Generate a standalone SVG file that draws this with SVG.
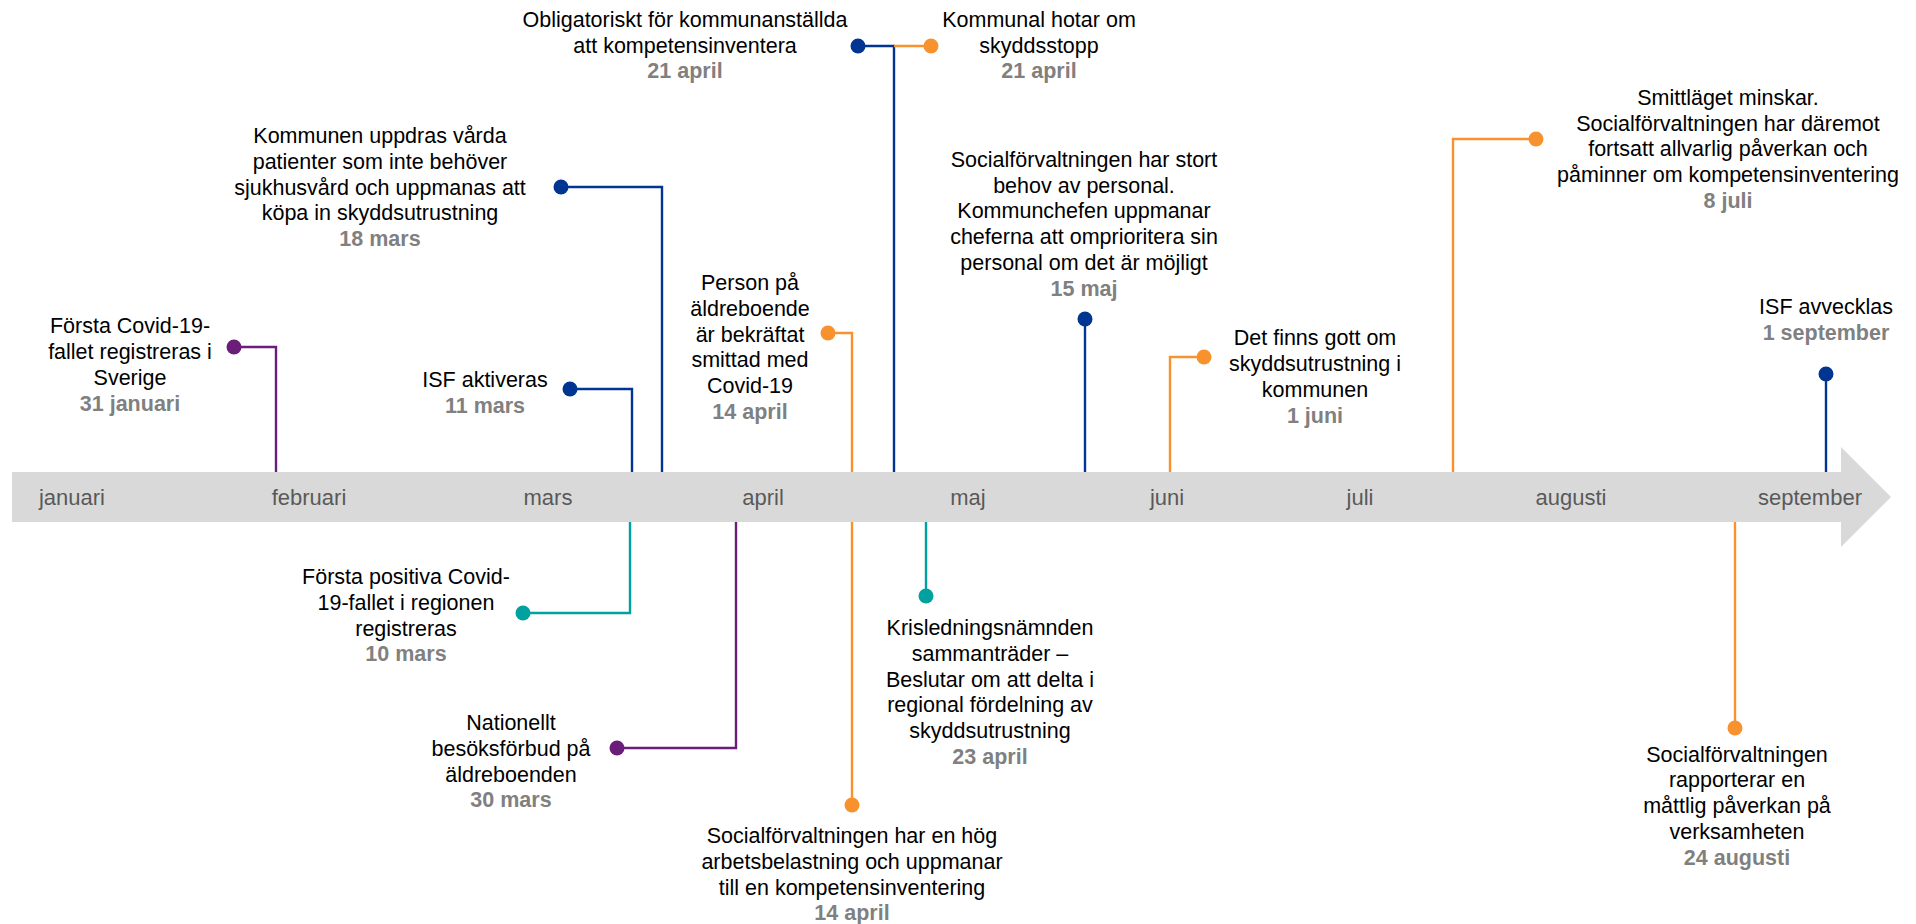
<svg xmlns="http://www.w3.org/2000/svg" width="1916" height="924" viewBox="0 0 1916 924">
<style>
text{font-family:"Liberation Sans",Arial,sans-serif;font-size:21.5px;text-anchor:middle;fill:#000}
.d{font-weight:bold;fill:#808080}
.m{fill:#595959;font-size:22px}
.c{fill:none;stroke-width:2.4}
.pu{stroke:#6A1E7A}.bl{stroke:#003591}.or{stroke:#F7922E}.te{stroke:#00A19E}
.fpu{fill:#6A1E7A}.fbl{fill:#003591}.for{fill:#F7922E}.fte{fill:#00A19E}
</style>
<rect width="1916" height="924" fill="#fff"/>
<g id="timeline">
<polygon points="12,472 1841,472 1841,447 1891,497 1841,547 1841,522 12,522" fill="#D9D9D9"/>
<text class="m" x="72" y="505">januari</text>
<text class="m" x="309" y="505">februari</text>
<text class="m" x="548" y="505">mars</text>
<text class="m" x="763" y="505">april</text>
<text class="m" x="968" y="505">maj</text>
<text class="m" x="1167" y="505">juni</text>
<text class="m" x="1360" y="505">juli</text>
<text class="m" x="1571" y="505">augusti</text>
<text class="m" x="1810" y="505">september</text>
</g>
<g id="connectors">
<path class="c pu" d="M234,347 H276 V472"/>
<path class="c bl" d="M570,389 H632 V472"/>
<path class="c bl" d="M561,187 H662 V472"/>
<path class="c bl" d="M858,46 H894 V472"/>
<path class="c or" d="M894,46 H931"/>
<path class="c or" d="M828,333 H852 V472"/>
<path class="c bl" d="M1085,319 V472"/>
<path class="c or" d="M1204,357 H1170 V472"/>
<path class="c or" d="M1536,139 H1453 V472"/>
<path class="c bl" d="M1826,374 V472"/>
<path class="c te" d="M523,613 H630 V522"/>
<path class="c pu" d="M617,748 H736 V522"/>
<path class="c te" d="M926,596 V522"/>
<path class="c or" d="M852,805 V522"/>
<path class="c or" d="M1735,728 V522"/>
</g>
<g id="e1"><circle class="fpu" cx="234" cy="347" r="7.5"/>
<text x="130" y="333">Första Covid-19-</text><text x="130" y="359">fallet registreras i</text><text x="130" y="385">Sverige</text><text class="d" x="130" y="411">31 januari</text></g>
<g id="e2"><circle class="fbl" cx="570" cy="389" r="7.5"/>
<text x="485" y="387">ISF aktiveras</text><text class="d" x="485" y="413">11 mars</text></g>
<g id="e3"><circle class="fbl" cx="561" cy="187" r="7.5"/>
<text x="380" y="143">Kommunen uppdras vårda</text><text x="380" y="169">patienter som inte behöver</text><text x="380" y="195">sjukhusvård och uppmanas att</text><text x="380" y="220">köpa in skyddsutrustning</text><text class="d" x="380" y="246">18 mars</text></g>
<g id="e4"><circle class="fbl" cx="858" cy="46" r="7.5"/>
<text x="685" y="27">Obligatoriskt för kommunanställda</text><text x="685" y="53">att kompetensinventera</text><text class="d" x="685" y="78">21 april</text></g>
<g id="e5"><circle class="for" cx="931" cy="46" r="7.5"/>
<text x="1039" y="27">Kommunal hotar om</text><text x="1039" y="53">skyddsstopp</text><text class="d" x="1039" y="78">21 april</text></g>
<g id="e6"><circle class="for" cx="828" cy="333" r="7.5"/>
<text x="750" y="290">Person på</text><text x="750" y="316">äldreboende</text><text x="750" y="342">är bekräftat</text><text x="750" y="367">smittad med</text><text x="750" y="393">Covid-19</text><text class="d" x="750" y="419">14 april</text></g>
<g id="e7"><circle class="fbl" cx="1085" cy="319" r="7.5"/>
<text x="1084" y="167">Socialförvaltningen har stort</text><text x="1084" y="193">behov av personal.</text><text x="1084" y="218">Kommunchefen uppmanar</text><text x="1084" y="244">cheferna att omprioritera sin</text><text x="1084" y="270">personal om det är möjligt</text><text class="d" x="1084" y="296">15 maj</text></g>
<g id="e8"><circle class="for" cx="1204" cy="357" r="7.5"/>
<text x="1315" y="345">Det finns gott om</text><text x="1315" y="371">skyddsutrustning i</text><text x="1315" y="397">kommunen</text><text class="d" x="1315" y="423">1 juni</text></g>
<g id="e9"><circle class="for" cx="1536" cy="139" r="7.5"/>
<text x="1728" y="105">Smittläget minskar.</text><text x="1728" y="131">Socialförvaltningen har däremot</text><text x="1728" y="156">fortsatt allvarlig påverkan och</text><text x="1728" y="182">påminner om kompetensinventering</text><text class="d" x="1728" y="208">8 juli</text></g>
<g id="e10"><circle class="fbl" cx="1826" cy="374" r="7.5"/>
<text x="1826" y="314">ISF avvecklas</text><text class="d" x="1826" y="340">1 september</text></g>
<g id="e11"><circle class="fte" cx="523" cy="613" r="7.5"/>
<text x="406" y="584">Första positiva Covid-</text><text x="406" y="610">19-fallet i regionen</text><text x="406" y="636">registreras</text><text class="d" x="406" y="661">10 mars</text></g>
<g id="e12"><circle class="fpu" cx="617" cy="748" r="7.5"/>
<text x="511" y="730">Nationellt</text><text x="511" y="756">besöksförbud på</text><text x="511" y="782">äldreboenden</text><text class="d" x="511" y="807">30 mars</text></g>
<g id="e13"><circle class="fte" cx="926" cy="596" r="7.5"/>
<text x="990" y="635">Krisledningsnämnden</text><text x="990" y="661">sammanträder –</text><text x="990" y="687">Beslutar om att delta i</text><text x="990" y="712">regional fördelning av</text><text x="990" y="738">skyddsutrustning</text><text class="d" x="990" y="764">23 april</text></g>
<g id="e14"><circle class="for" cx="852" cy="805" r="7.5"/>
<text x="852" y="843">Socialförvaltningen har en hög</text><text x="852" y="869">arbetsbelastning och uppmanar</text><text x="852" y="895">till en kompetensinventering</text><text class="d" x="852" y="920">14 april</text></g>
<g id="e15"><circle class="for" cx="1735" cy="728" r="7.5"/>
<text x="1737" y="762">Socialförvaltningen</text><text x="1737" y="787">rapporterar en</text><text x="1737" y="813">måttlig påverkan på</text><text x="1737" y="839">verksamheten</text><text class="d" x="1737" y="865">24 augusti</text></g>
</svg>
